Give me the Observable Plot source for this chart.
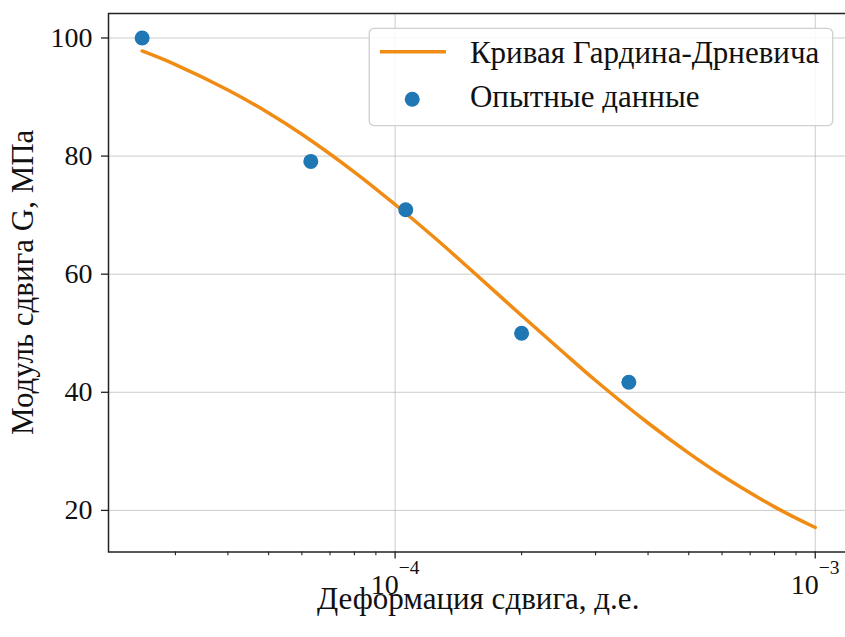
<!DOCTYPE html>
<html><head><meta charset="utf-8">
<script src="https://cdn.jsdelivr.net/npm/d3@7"></script>
<script src="https://cdn.jsdelivr.net/npm/@observablehq/plot@0.6"></script>
<style>
html,body{margin:0;padding:0;background:#fff;overflow:hidden;}
#chart svg{overflow:visible;display:block;}
</style>
</head><body><div id="chart"></div>
<script>
const expStrain = [2.5e-5, 6.3e-5, 1.06e-4, 2.0e-4, 3.6e-4];
const expG = [100, 79.1, 70.9, 50.0, 41.7];
// Hardin–Drnevich curve, values
const curveStrain = [2.5e-5, 3e-5, 4e-5, 5e-5, 6e-5, 8e-5, 1e-4, 1.25e-4, 1.5e-4, 2e-4, 2.5e-4, 3e-4, 4e-4, 5e-4, 6e-4, 8e-4, 1e-3];
const curveG = [97.8, 95.5, 91.2, 87.3, 83.7, 77.3, 71.8, 66.0, 61.0, 53.0, 46.9, 42.0, 34.8, 29.7, 25.9, 20.6, 17.1];
// Ticks
const yTicks = [20, 40, 60, 80, 100];
const xMajorTicks = [1e-4, 1e-3];
const xMajorExponents = ["−4", "−3"];
const xMinorTicks = [3e-5, 4e-5, 5e-5, 6e-5, 7e-5, 8e-5, 9e-5, 2e-4, 3e-4, 4e-4, 5e-4, 6e-4, 7e-4, 8e-4, 9e-4];
// Text
const seriesNames = ["Кривая Гардина-Дрневича", "Опытные данные"];
const xTitle = "Деформация сдвига, д.е.";
const yTitle = "Модуль сдвига G, МПа";

const orange = "#f08c14", blue = "#1f77b4";
const curveData = curveStrain.map((x, i) => ({x, y: curveG[i]}));
const expData = expStrain.map((x, i) => ({x, y: expG[i]}));

// matplotlib-like 5% margins (log space for x)
const allX = curveStrain.concat(expStrain), allY = curveG.concat(expG);
const lx0 = Math.log10(d3.min(allX)), lx1 = Math.log10(d3.max(allX)), px = 0.05 * (lx1 - lx0);
const y0 = d3.min(allY), y1 = d3.max(allY), py = 0.05 * (y1 - y0);

const font = "'Liberation Serif', 'Times New Roman', serif";
const plot = Plot.plot({
  width: 845, height: 637,
  marginLeft: 108, marginTop: 13, marginBottom: 85.5, marginRight: -3.4,
  style: {fontFamily: font, fontSize: "28px", color: "#222", background: "#fff"},
  x: {type: "log", domain: [10 ** (lx0 - px), 10 ** (lx1 + px)]},
  y: {domain: [y0 - py, y1 + py]},
  marks: [
    Plot.gridY(yTicks, {stroke: "#b0b0b0", strokeOpacity: 0.65, strokeWidth: 1}),
    Plot.gridX(xMajorTicks, {stroke: "#b0b0b0", strokeOpacity: 0.65, strokeWidth: 1}),
    Plot.axisY(yTicks, {tickSize: 7, tickPadding: 9, strokeWidth: 1.3, fill: "#111", label: null, tickFormat: d => String(d)}),
    Plot.axisX(xMinorTicks, {tickSize: 3.7, strokeWidth: 1.1, label: null, tickFormat: () => ""}),
    Plot.axisX(xMajorTicks, {tickSize: 7, tickPadding: 15, strokeWidth: 1.3, fill: "#111", label: null,
      tickFormat: d => "10^" + xMajorExponents[xMajorTicks.indexOf(d)]}),
    Plot.line(curveData, {x: "x", y: "y", stroke: orange, strokeWidth: 3.5, curve: "catmull-rom"}),
    Plot.dot(expData, {x: "x", y: "y", r: 7.5, fill: blue, stroke: "none"}),
    Plot.frame({stroke: "#222", strokeWidth: 1.5})
  ]
});
document.getElementById("chart").appendChild(plot);

const svg = d3.select(plot);
// superscript tick labels
svg.selectAll("text").each(function () {
  const t = this.textContent;
  if (t.startsWith("10^")) {
    const exp = t.slice(3);
    const el = d3.select(this);
    el.text("");
    el.append("tspan").text("10");
    el.append("tspan").attr("font-size", "19.5px").attr("dy", -20).text(exp);
  }
});

const xs = plot.scale("x"), ys = plot.scale("y");
const xr = xs.range, yr = ys.range;
const fx0 = Math.min(...xr), fx1 = Math.max(...xr);
const fy0 = Math.min(...yr), fy1 = Math.max(...yr);
const tfs = "31px";

// axis titles
svg.append("text").attr("x", (fx0 + fx1) / 2).attr("y", fy1 + 57)
  .attr("text-anchor", "middle").attr("fill", "#111").style("font-size", tfs).text(xTitle);
svg.append("text").attr("transform", `translate(${33},${(fy0 + fy1) / 2}) rotate(-90)`)
  .attr("text-anchor", "middle").attr("fill", "#111").style("font-size", tfs).text(yTitle);

// legend
const lg = svg.append("g");
const box = lg.append("rect").attr("rx", 5).attr("ry", 5)
  .attr("fill", "#fff").attr("fill-opacity", 0.85).attr("stroke", "#d0d0d0").attr("stroke-width", 1.3);
const t1 = lg.append("text").attr("x", 100.7).attr("y", 35).attr("text-anchor", "start").attr("fill", "#111").style("font-size", tfs).text(seriesNames[0]);
const t2 = lg.append("text").attr("x", 100.7).attr("y", 78.4).attr("text-anchor", "start").attr("fill", "#111").style("font-size", tfs).text(seriesNames[1]);
lg.append("line").attr("x1", 10.7).attr("x2", 76.7).attr("y1", 23.4).attr("y2", 23.4)
  .attr("stroke", orange).attr("stroke-width", 3.5);
lg.append("circle").attr("cx", 43).attr("cy", 71).attr("r", 7.5).attr("fill", blue);
const tw = Math.max(t1.node().getComputedTextLength(), t2.node().getComputedTextLength());
const bw = 100.7 + tw + 13.4, bh = 97.4;
box.attr("width", bw).attr("height", bh);
lg.attr("transform", `translate(${fx1 - 15.7 - bw},${fy0 + 15.3})`);
</script>
</body></html>
